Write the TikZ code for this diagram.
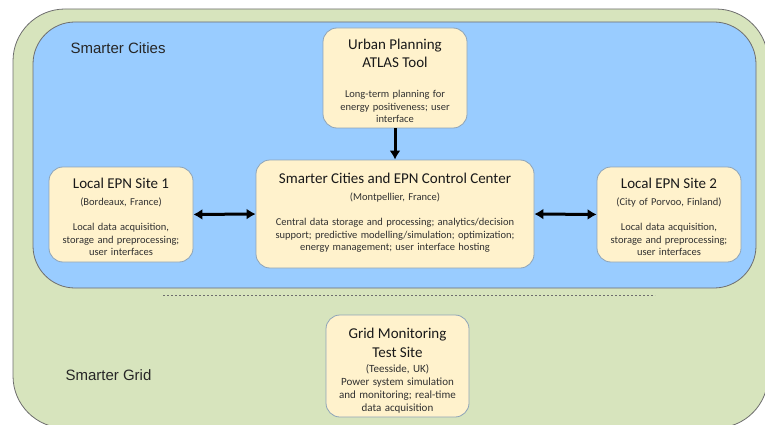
\documentclass[tikz,border=0pt]{standalone}
\usepackage{fontspec}
\setmainfont{Carlito}
\newfontfamily\labelfont{Liberation Sans}
\usetikzlibrary{positioning,arrows.meta}

\definecolor{gridgreen}{HTML}{D7E4BD}
\definecolor{cityblue}{HTML}{99CCFF}
\definecolor{boxfill}{HTML}{FFF2CC}
\definecolor{boxline}{HTML}{8EA4B8}
\definecolor{bodytext}{HTML}{303030}
\definecolor{framegray}{HTML}{6E6E6E}

\tikzset{
  sitebox/.style={draw=boxline, fill=boxfill, line width=0.8pt, rounded corners=14pt,
    inner sep=0pt, align=center},
  zonelabel/.style={anchor=west, font=\labelfont\fontsize{15}{18}\selectfont, text=black!85},
  link/.style={line width=3pt, {Latex[length=9pt,width=11pt]}-{Latex[length=9pt,width=11pt]}},
  feed/.style={line width=3pt, -{Latex[length=9pt,width=11pt]}},
}

% title, place, body of one box
\newcommand{\boxtitle}[1]{{\fontsize{15}{18}\selectfont\color{black!90}#1\par}}
\newcommand{\boxplace}[1]{{\fontsize{10.5}{12.5}\selectfont\color{bodytext}#1\par}}
\newcommand{\boxbody}[1]{{\fontsize{10.5}{12.5}\selectfont\color{bodytext}#1\par}}

\begin{document}
\begin{tikzpicture}[x=1pt, y=-1pt]

\useasboundingbox (0,0) rectangle (765,425);

% 1. Zones: Smarter Grid (green) and Smarter Cities (blue)
\draw[fill=gridgreen, draw=framegray, line width=0.8pt, rounded corners=52pt] (13,9) rectangle (768,428);
\draw[fill=cityblue, draw=framegray, line width=0.8pt, rounded corners=42pt] (33,22) rectangle (756,288);

% 2. Zone labels
\node[zonelabel] (citylabel) at (67,48) {Smarter Cities};
\node[zonelabel] (gridlabel) at (62,375) {Smarter Grid};

% 3. Divider between the zones
\coordinate (divL) at (163,295);
\coordinate (divR) at (655,295);
\draw[framegray, line width=0.8pt, dash pattern=on 2pt off 2pt] (divL) -- (divR);

% 4. Boxes (the closing \kern moves the text up or down in its box)
\node[sitebox, minimum width=144pt, minimum height=100pt, text width=140pt] (atlas) at (395,78)
  {\boxtitle{Urban Planning\\ATLAS Tool}\vspace{18pt}
   \boxbody{Long-term planning for\\energy positiveness; user\\interface}\kern-6pt};

\node[sitebox, minimum width=278pt, minimum height=108pt, text width=274pt] (control) at (395,214)
  {\boxtitle{Smarter Cities and EPN Control Center}\vspace{4.5pt}
   \boxplace{(Montpellier, France)}\vspace{12.5pt}
   \boxbody{Central data storage and processing; analytics/decision\\support;\ predictive modelling/simulation; optimization;\\energy management; user interface hosting}\kern2pt};

\node[sitebox, minimum width=144pt, minimum height=95pt, text width=140pt] (site1) at (121,214.5)
  {\boxtitle{Local EPN Site 1}\vspace{4.5pt}
   \boxplace{(Bordeaux, France)}\vspace{12.5pt}
   \boxbody{Local data acquisition,\\storage and preprocessing;\\user interfaces}\kern-5pt};

\node[sitebox, minimum width=144pt, minimum height=95pt, text width=140pt] (site2) at (669,214.5)
  {\boxtitle{Local EPN Site 2}\vspace{4.5pt}
   \boxplace{(City of Porvoo,\ Finland)}\vspace{12.5pt}
   \boxbody{Local data acquisition,\\storage and preprocessing;\\user interfaces}\kern-5pt};

\node[sitebox, minimum width=143pt, minimum height=102pt, text width=139pt] (gridsite) at (397.5,366)
  {{\fontsize{15}{19}\selectfont\color{black!90}Grid Monitoring\\Test Site\par}\vspace{2pt}
   {\fontsize{11}{13}\selectfont\color{bodytext}(Teesside, UK)\\Power system simulation\\and monitoring;\ real-time\\data acquisition\par}\kern-9pt};

% 5. Connectors
\draw[feed] (atlas.south) -- (control.north);
\draw[link] (site1.east) -- (control.west);
\draw[link] (control.east) -- (site2.west);

\end{tikzpicture}
\end{document}
